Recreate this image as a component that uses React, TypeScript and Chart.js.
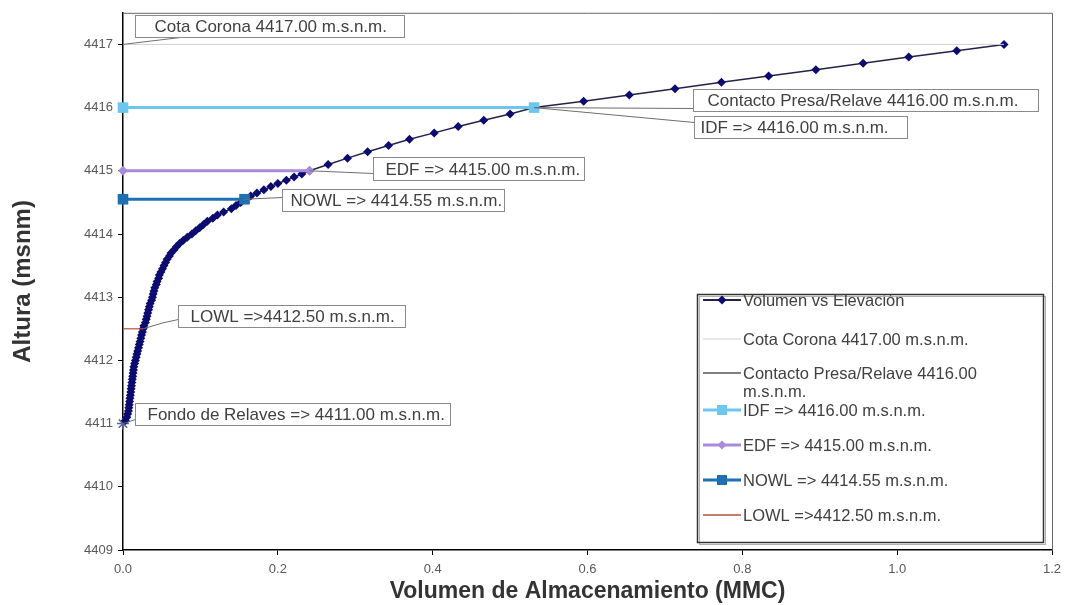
import React, { useEffect, useRef } from 'react';
import { Chart, registerables } from 'chart.js';

Chart.register(...registerables);

const FONT = "'Liberation Sans', Arial, Helvetica, sans-serif";

// ---- Data: Volumen vs Elevación ----
const elevacion = [
  4411.00, 4411.05, 4411.10, 4411.15, 4411.20, 4411.25, 4411.30, 4411.35, 4411.40, 4411.45,
  4411.50, 4411.55, 4411.60, 4411.65, 4411.70, 4411.75, 4411.80, 4411.85, 4411.90, 4411.95,
  4412.00, 4412.05, 4412.10, 4412.15, 4412.20, 4412.25, 4412.30, 4412.35, 4412.40, 4412.45,
  4412.50, 4412.55, 4412.60, 4412.65, 4412.70, 4412.75, 4412.80, 4412.85, 4412.90, 4412.95,
  4413.00, 4413.05, 4413.10, 4413.15, 4413.20, 4413.25, 4413.30, 4413.35, 4413.40, 4413.45,
  4413.50, 4413.55, 4413.60, 4413.65, 4413.70, 4413.75, 4413.80, 4413.85, 4413.90, 4413.95,
  4414.00, 4414.05, 4414.10, 4414.15, 4414.20, 4414.25, 4414.30, 4414.35, 4414.40, 4414.45,
  4414.50, 4414.55, 4414.60, 4414.65, 4414.70, 4414.75, 4414.80, 4414.85, 4414.90, 4414.95,
  4415.00, 4415.10, 4415.20, 4415.30, 4415.40, 4415.50, 4415.60, 4415.70, 4415.80, 4415.90,
  4416.00, 4416.10, 4416.20, 4416.30, 4416.40, 4416.50, 4416.60, 4416.70, 4416.80, 4416.90,
  4417.00,
];
const volumen = [
  0.000, 0.003, 0.005, 0.006, 0.007, 0.0075, 0.008, 0.0085, 0.009, 0.0095,
  0.010, 0.0105, 0.011, 0.0115, 0.012, 0.0125, 0.013, 0.0135, 0.014, 0.015,
  0.016, 0.017, 0.018, 0.019, 0.020, 0.021, 0.022, 0.023, 0.024, 0.025,
  0.026, 0.027, 0.029, 0.030, 0.031, 0.032, 0.033, 0.034, 0.035, 0.037,
  0.038, 0.039, 0.040, 0.041, 0.043, 0.044, 0.046, 0.047, 0.049, 0.051,
  0.053, 0.055, 0.057, 0.060, 0.062, 0.066, 0.069, 0.073, 0.078, 0.083,
  0.089, 0.094, 0.099, 0.104, 0.109, 0.116, 0.122, 0.130, 0.140, 0.146,
  0.152, 0.157, 0.165, 0.173, 0.182, 0.191, 0.200, 0.211, 0.221, 0.231,
  0.241, 0.265, 0.290, 0.316, 0.343, 0.370, 0.402, 0.433, 0.466, 0.500,
  0.531, 0.595, 0.654, 0.713, 0.773, 0.834, 0.895, 0.956, 1.015, 1.077,
  1.138,
];

// ---- Level lines ----
const cotaCoronaX = [0, 1.138];
const cotaCoronaY = 4417.0;
const contactoX = [0, 0.531];
const contactoY = 4416.0;
const idfX = [0, 0.531];
const idfY = 4416.0;
const edfX = [0, 0.241];
const edfY = 4415.0;
const nowlX = [0, 0.157];
const nowlY = 4414.55;
const lowlX = [0, 0.026];
const lowlY = 4412.5;
const fondoX = 0;
const fondoY = 4411.0;

const xMin = 0;
const xMax = 1.2;
const xStep = 0.2;
const yMin = 4409;
const yMax = 4417.5;
const yStep = 1;

const labels = {
  serie: 'Volumen vs Elevación',
  cota: 'Cota Corona 4417.00 m.s.n.m.',
  contacto: 'Contacto Presa/Relave 4416.00 m.s.n.m.',
  contactoL1: 'Contacto Presa/Relave 4416.00',
  contactoL2: 'm.s.n.m.',
  idf: 'IDF => 4416.00 m.s.n.m.',
  edf: 'EDF => 4415.00 m.s.n.m.',
  nowl: 'NOWL => 4414.55 m.s.n.m.',
  lowl: 'LOWL =>4412.50 m.s.n.m.',
  fondo: 'Fondo de Relaves => 4411.00 m.s.n.m.',
  xTitle: 'Volumen de Almacenamiento (MMC)',
  yTitle: 'Altura (msnm)',
};

// ---- Styles ----
const C = {
  serieLine: '#23234a',
  seriePoint: '#0b0b70',
  fondo: '#5a6896',
  cota: '#cfcfcf',
  contacto: '#555555',
  idf: '#6cc6ee',
  edf: '#a98bdb',
  nowl: '#1f70b0',
  lowl: '#b4503c',
  text: '#404040',
  tick: '#595959',
  box: '#8a8a8a',
  leader: '#6e6e6e',
};

// callout layout (pixel offsets from anchor)
const callouts = [
  { text: labels.cota, x: cotaCoronaX[0], y: cotaCoronaY, dx: 12, dy: -29, w: 269, h: 22, pad: 19, end: [45, 22] },
  { text: labels.contacto, x: contactoX[1], y: contactoY, dx: 159, dy: -19, w: 345, h: 22, pad: 14, end: [0, 19] },
  { text: labels.idf, x: idfX[1], y: idfY, dx: 160, dy: 8, w: 213, h: 22, pad: 6, end: [0, 6] },
  { text: labels.edf, x: edfX[1], y: edfY, dx: 63, dy: -14, w: 211, h: 23, pad: 12, end: [0, 16] },
  { text: labels.nowl, x: nowlX[1], y: nowlY, dx: 37, dy: -10, w: 222, h: 22, pad: 8, end: [0, 8] },
  { text: labels.lowl, x: lowlX[1], y: lowlY, dx: 35, dy: -24, w: 227, h: 22, pad: 12, end: [0, 14], mid: [20, -6] },
  { text: labels.fondo, x: fondoX, y: fondoY, dx: 12, dy: -21, w: 315, h: 22, pad: 12, end: [0, 16] },
];

const legendBox = { left: 697, top: 294, w: 346, h: 248 };
const legendItems = [
  { lines: [labels.serie], dy: 6, color: C.serieLine, width: 2, marker: 'diamond', mcolor: C.seriePoint },
  { lines: [labels.cota], dy: 45, color: C.cota, width: 1 },
  { lines: [labels.contactoL1, labels.contactoL2], dy: 79, color: C.contacto, width: 1.5 },
  { lines: [labels.idf], dy: 116, color: C.idf, width: 3, marker: 'square', mcolor: C.idf },
  { lines: [labels.edf], dy: 151, color: C.edf, width: 3, marker: 'diamond', mcolor: C.edf },
  { lines: [labels.nowl], dy: 186, color: C.nowl, width: 3, marker: 'square', mcolor: C.nowl },
  { lines: [labels.lowl], dy: 221, color: C.lowl, width: 1.5 },
];

const overlayPlugin = {
  id: 'overlay',
  afterDatasetsDraw(chart: any) {
    const { ctx, chartArea, scales } = chart;
    const xs = scales.x;
    const ys = scales.y;
    ctx.save();
    // plot frame top/right
    ctx.strokeStyle = '#666';
    ctx.lineWidth = 1;
    ctx.beginPath();
    ctx.moveTo(chartArea.left, chartArea.top + 0.5);
    ctx.lineTo(chartArea.right + 0.5, chartArea.top + 0.5);
    ctx.lineTo(chartArea.right + 0.5, chartArea.bottom);
    ctx.stroke();

    // callouts
    ctx.font = `17px ${FONT}`;
    ctx.textBaseline = 'middle';
    ctx.textAlign = 'left';
    for (const c of callouts) {
      const ax = xs.getPixelForValue(c.x);
      const ay = ys.getPixelForValue(c.y);
      const bx = Math.round(ax + c.dx) + 0.5;
      const by = Math.round(ay + c.dy) + 0.5;
      ctx.strokeStyle = C.leader;
      ctx.lineWidth = 1;
      ctx.beginPath();
      ctx.moveTo(ax, ay);
      if (c.mid) ctx.lineTo(ax + c.mid[0], ay + c.mid[1]);
      ctx.lineTo(bx + c.end[0], by + c.end[1]);
      ctx.stroke();
      ctx.fillStyle = '#ffffff';
      ctx.fillRect(bx, by, c.w, c.h);
      ctx.strokeStyle = C.box;
      ctx.strokeRect(bx, by, c.w, c.h);
      ctx.fillStyle = C.text;
      ctx.fillText(c.text, bx + c.pad, by + c.h / 2 + 1);
    }

    // legend
    const L = legendBox;
    ctx.fillStyle = '#ffffff';
    ctx.fillRect(L.left, L.top, L.w, L.h);
    ctx.strokeStyle = '#b0b0b0';
    ctx.lineWidth = 1;
    ctx.strokeRect(L.left + 2.5, L.top + 2.5, L.w, L.h);
    ctx.strokeStyle = '#333';
    ctx.lineWidth = 1.5;
    ctx.strokeRect(L.left + 0.5, L.top + 0.5, L.w, L.h);
    ctx.font = `16.5px ${FONT}`;
    for (const it of legendItems) {
      const y = L.top + it.dy;
      const x0 = L.left + 6;
      const x1 = L.left + 44;
      ctx.strokeStyle = it.color;
      ctx.lineWidth = it.width;
      ctx.beginPath();
      ctx.moveTo(x0, y);
      ctx.lineTo(x1, y);
      ctx.stroke();
      const mx = (x0 + x1) / 2;
      if (it.marker === 'diamond') {
        ctx.fillStyle = it.mcolor;
        ctx.beginPath();
        ctx.moveTo(mx - 4.5, y);
        ctx.lineTo(mx, y - 4.5);
        ctx.lineTo(mx + 4.5, y);
        ctx.lineTo(mx, y + 4.5);
        ctx.closePath();
        ctx.fill();
      } else if (it.marker === 'square') {
        ctx.fillStyle = it.mcolor;
        ctx.fillRect(mx - 5, y - 5, 10, 10);
      }
      ctx.fillStyle = C.text;
      it.lines.forEach((t, i) => {
        ctx.fillText(t, x1 + 2, y + 1 + i * 18);
      });
    }
    ctx.restore();
  },
};

const toPts = (xs: number[], y: number) => xs.map((x) => ({ x, y }));

export default function App() {
  const ref = useRef<HTMLCanvasElement>(null);
  useEffect(() => {
    if (!ref.current) return;
    const serie = elevacion.map((e, i) => ({ x: volumen[i], y: e }));
    const chart = new Chart(ref.current, {
      type: 'scatter',
      data: {
        datasets: [
          {
            label: labels.idf, data: toPts(idfX, idfY), showLine: true,
            borderColor: C.idf, backgroundColor: C.idf, borderWidth: 3,
            pointStyle: 'rect', pointRadius: 7.5, pointBorderWidth: 0, clip: false,
          },
          {
            label: labels.edf, data: toPts(edfX, edfY), showLine: true,
            borderColor: C.edf, backgroundColor: C.edf, borderWidth: 3,
            pointStyle: 'rectRot', pointRadius: 5, pointBorderWidth: 0, clip: false,
          },
          {
            label: labels.nowl, data: toPts(nowlX, nowlY), showLine: true,
            borderColor: C.nowl, backgroundColor: C.nowl, borderWidth: 3,
            pointStyle: 'rect', pointRadius: 7.5, pointBorderWidth: 0, clip: false,
          },
          {
            label: labels.lowl, data: toPts(lowlX, lowlY), showLine: true,
            borderColor: C.lowl, backgroundColor: C.lowl, borderWidth: 1.2,
            pointRadius: 0, clip: false,
          },
          {
            label: labels.contacto, data: toPts(contactoX, contactoY), showLine: true,
            borderColor: C.contacto, backgroundColor: C.contacto, borderWidth: 1,
            pointRadius: 0, clip: false,
          },
          {
            label: labels.cota, data: toPts(cotaCoronaX, cotaCoronaY), showLine: true,
            borderColor: C.cota, backgroundColor: C.cota, borderWidth: 1,
            pointRadius: 0, clip: false,
          },
          {
            label: labels.serie, data: serie, showLine: true,
            borderColor: C.serieLine, borderWidth: 1.5,
            backgroundColor: (c: any) => (c.dataIndex === 0 ? C.fondo : C.seriePoint),
            pointBorderColor: (c: any) => (c.dataIndex === 0 ? C.fondo : C.seriePoint),
            pointStyle: (c: any) => (c.dataIndex === 0 ? 'star' : 'rectRot'),
            pointRadius: (c: any) => (c.dataIndex === 0 ? 6 : 4.5),
            pointBorderWidth: (c: any) => (c.dataIndex === 0 ? 1.5 : 0),
            clip: false,
          },
        ],
      },
      options: {
        animation: false,
        responsive: true,
        maintainAspectRatio: false,
        events: [],
        layout: { padding: { top: 12, right: 20, bottom: 0, left: 0 } },
        plugins: { legend: { display: false }, tooltip: { enabled: false } },
        scales: {
          x: {
            type: 'linear',
            min: xMin,
            max: xMax,
            afterFit: (s: any) => { s.height = 55; },
            ticks: {
              stepSize: xStep,
              color: C.tick,
              font: { family: FONT, size: 13 },
              padding: 7,
              maxRotation: 0,
              callback: (v: any) => Number(v).toFixed(1),
            },
            grid: { drawOnChartArea: false, drawTicks: true, tickLength: 5, color: '#000' },
            border: { display: true, color: '#000', width: 1.5 },
            title: {
              display: true,
              text: labels.xTitle,
              color: '#333',
              font: { family: FONT, size: 23, weight: 'bold' },
              padding: { top: 0, bottom: 0 },
            },
          },
          y: {
            type: 'linear',
            min: yMin,
            max: yMax,
            afterFit: (s: any) => { s.width = 123; },
            afterBuildTicks: (s: any) => {
              s.ticks = s.ticks.filter((t: any) => Number.isInteger(t.value));
            },
            ticks: {
              stepSize: yStep,
              color: C.tick,
              font: { family: FONT, size: 13 },
              padding: 5,
              callback: (v: any) => String(v),
            },
            grid: { drawOnChartArea: false, drawTicks: true, tickLength: 5, color: '#000' },
            border: { display: true, color: '#000', width: 1.5 },
            title: {
              display: true,
              text: labels.yTitle,
              color: '#333',
              font: { family: FONT, size: 24, weight: 'bold' },
              padding: { top: 9, bottom: 0 },
            },
          },
        },
      },
      plugins: [overlayPlugin],
    });
    return () => chart.destroy();
  }, []);
  return (
    <div style={{ position: 'absolute', left: 0, top: 0, width: 1072, height: 605, background: '#fff' }}>
      <canvas ref={ref} />
    </div>
  );
}
